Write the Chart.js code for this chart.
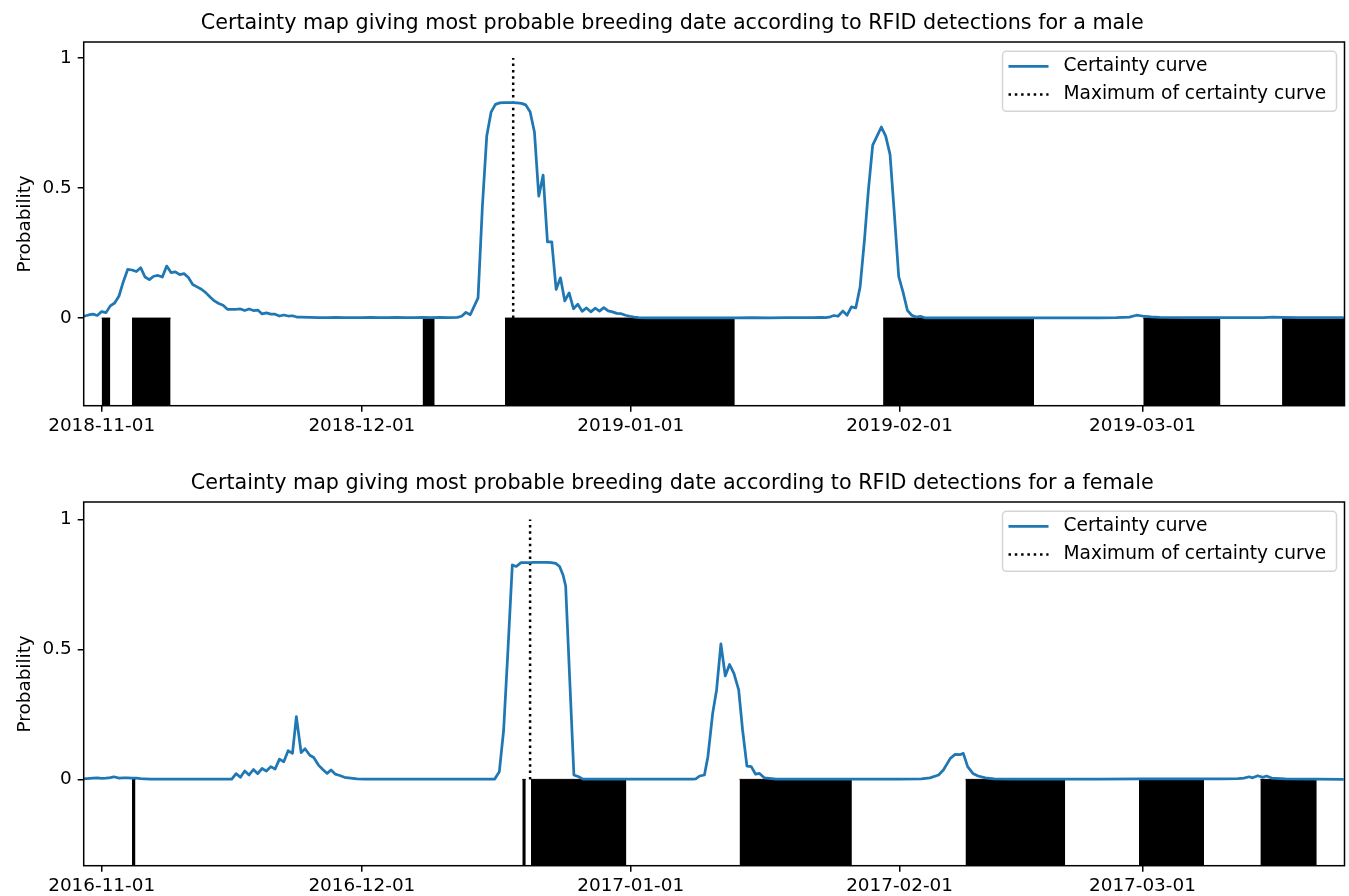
<!DOCTYPE html>
<html lang="en">
<head>
<meta charset="UTF-8">
<title>Certainty maps of breeding date</title>
<script src="https://cdn.jsdelivr.net/npm/chart.js"></script>
<style>
  body { margin: 0; background: #fff; }
  canvas { display: block; }
</style>
</head>
<body>
<canvas id="maleChart" width="1349" height="448"></canvas>
<canvas id="femaleChart" width="1349" height="448"></canvas>

<script>
// x values are days counted from the 1st of November of each season
var tickDays = [0, 30, 61, 92, 120];
var maleTickLabels = ['2018-11-01', '2018-12-01', '2019-01-01', '2019-02-01', '2019-03-01'];
var femaleTickLabels = ['2016-11-01', '2016-12-01', '2017-01-01', '2017-02-01', '2017-03-01'];
var probTicks = [0, 0.5, 1];
var probTickLabels = ['0', '0.5', '1'];
var legendLabels = ['Certainty curve', 'Maximum of certainty curve'];

// male, 2018-2019
var maleDays = [
  -2.05, -1.5, -1, -0.5, 0, 0.5, 1, 1.5, 2, 2.5,
  3, 3.5, 4, 4.5, 5, 5.5, 6, 6.5, 7, 7.5,
  8, 8.5, 9, 9.5, 10, 10.5, 11, 11.5, 12, 12.5,
  13, 13.5, 14, 14.5, 15, 15.5, 16, 16.5, 17, 17.5,
  18, 18.5, 19, 19.5, 20, 20.5, 21, 21.5, 22, 22.5,
  23, 24, 25, 26, 27, 28, 29, 30, 31, 32,
  33, 34, 35, 36, 37, 38, 39, 40, 41, 41.5,
  42, 42.5, 43.4, 43.9, 44.4, 44.9, 45.4, 45.9, 46.4, 46.9,
  47.4, 47.9, 48.4, 48.9, 49.4, 49.9, 50.4, 50.9, 51.4, 51.9,
  52.4, 52.9, 53.4, 53.9, 54.4, 54.9, 55.4, 55.9, 56.4, 56.9,
  57.4, 57.9, 58.4, 58.9, 59.4, 59.9, 60.4, 60.9, 61.4, 61.9,
  63, 65, 67, 69, 71, 73, 75, 77, 79, 81,
  82, 83, 83.5, 84, 84.45, 84.9, 85.45, 85.95, 86.45, 86.95,
  87.45, 87.95, 88.4, 88.9, 89.4, 89.9, 90.4, 90.9, 91.4, 91.9,
  92.4, 92.9, 93.4, 93.9, 94.4, 94.9, 96, 98, 100, 103,
  106, 109, 112, 115, 117, 118.5, 119.3, 120, 121, 122,
  125, 128, 131, 134, 135, 136, 138, 141, 143.2
];
var maleProb = [
  0.007, 0.012, 0.015, 0.010, 0.025, 0.021, 0.047, 0.058, 0.085, 0.140,
  0.187, 0.185, 0.179, 0.194, 0.158, 0.148, 0.161, 0.164, 0.158, 0.200,
  0.175, 0.178, 0.167, 0.171, 0.156, 0.129, 0.120, 0.111, 0.098, 0.081,
  0.066, 0.056, 0.049, 0.034, 0.034, 0.034, 0.035, 0.029, 0.035, 0.029,
  0.031, 0.016, 0.020, 0.015, 0.015, 0.008, 0.012, 0.008, 0.009, 0.004,
  0.004, 0.003, 0.002, 0.002, 0.003, 0.002, 0.002, 0.002, 0.003, 0.002,
  0.002, 0.003, 0.002, 0.002, 0.003, 0.002, 0.003, 0.002, 0.003, 0.007,
  0.022, 0.013, 0.078, 0.430, 0.700, 0.792, 0.822, 0.828, 0.829, 0.829,
  0.829, 0.828, 0.826, 0.820, 0.794, 0.716, 0.469, 0.550, 0.293, 0.293,
  0.110, 0.155, 0.066, 0.097, 0.036, 0.053, 0.026, 0.039, 0.024, 0.038,
  0.027, 0.040, 0.028, 0.024, 0.018, 0.017, 0.011, 0.007, 0.004, 0.002,
  0.001, 0.001, 0.001, 0.001, 0.001, 0.001, 0.002, 0.001, 0.002, 0.002,
  0.002, 0.003, 0.002, 0.005, 0.010, 0.007, 0.027, 0.011, 0.043, 0.039,
  0.120, 0.300, 0.490, 0.665, 0.700, 0.735, 0.700, 0.630, 0.400, 0.160,
  0.100, 0.030, 0.011, 0.004, 0.007, 0.001, 0.001, 0.001, 0.001, 0.001,
  0.001, 0.001, 0.001, 0.001, 0.002, 0.004, 0.011, 0.008, 0.005, 0.003,
  0.002, 0.002, 0.002, 0.002, 0.004, 0.003, 0.002, 0.002, 0.002
];
var maleMaxDay = 47.45;
// RFID detection periods [from, to]
var maleDetections = [[0, 1], [3.5, 7.95], [37, 38.4], [46.5, 73], [90.1, 107.5], [120.1, 129], [136.1, 143.3]];

// female, 2016-2017
var femaleDays = [
  -2.05, -1, -0.5, 0, 0.5, 1, 1.4, 2, 2.5, 3,
  3.5, 4, 4.5, 5, 5.6, 7, 9, 11, 13, 15,
  15.5, 16, 16.5, 17, 17.5, 18, 18.5, 19, 19.5, 20,
  20.5, 21, 21.5, 22, 22.45, 23, 23.45, 24, 24.45, 25,
  25.5, 26, 26.45, 26.95, 27.45, 28, 28.7, 29.45, 30.4, 33,
  36, 39, 42, 45.3, 45.85, 46.35, 46.85, 47.35, 47.8, 48.35,
  48.85, 49.35, 49.85, 50.35, 50.85, 51.35, 51.85, 52.35, 52.8, 53.2,
  53.5, 54.45, 55, 55.5, 58, 61, 64, 66, 68.2, 68.5,
  68.95, 69.5, 69.9, 70.45, 70.9, 71.4, 71.9, 72.4, 72.9, 73.45,
  73.9, 74.4, 74.9, 75.4, 75.85, 76.4, 77, 77.75, 81, 85,
  89, 92, 94.5, 95.5, 96.5, 97.05, 97.85, 98.4, 98.95, 99.35,
  99.85, 100.45, 101.05, 101.9, 102.9, 105, 110, 115, 120, 125,
  129, 131, 131.7, 132.3, 132.7, 133.3, 133.9, 134.3, 134.9, 136.5,
  140, 143.2
];
var femaleProb = [
  0.002, 0.005, 0.006, 0.004, 0.005, 0.007, 0.010, 0.005, 0.006, 0.006,
  0.005, 0.005, 0.003, 0.002, 0.001, 0.001, 0.001, 0.001, 0.001, 0.001,
  0.022, 0.008, 0.032, 0.017, 0.038, 0.022, 0.042, 0.032, 0.049, 0.040,
  0.078, 0.068, 0.110, 0.100, 0.241, 0.103, 0.118, 0.093, 0.084, 0.055,
  0.038, 0.023, 0.036, 0.020, 0.015, 0.008, 0.005, 0.002, 0.001, 0.001,
  0.001, 0.001, 0.001, 0.001, 0.029, 0.190, 0.500, 0.825, 0.819, 0.834,
  0.834, 0.834, 0.835, 0.835, 0.835, 0.835, 0.834, 0.831, 0.819, 0.786,
  0.744, 0.017, 0.010, 0.001, 0.001, 0.001, 0.001, 0.001, 0.001, 0.002,
  0.013, 0.017, 0.087, 0.254, 0.344, 0.521, 0.398, 0.442, 0.408, 0.344,
  0.190, 0.051, 0.049, 0.020, 0.023, 0.006, 0.004, 0.001, 0.001, 0.001,
  0.001, 0.001, 0.002, 0.006, 0.017, 0.036, 0.081, 0.096, 0.095, 0.100,
  0.049, 0.023, 0.013, 0.006, 0.002, 0.001, 0.001, 0.001, 0.002, 0.002,
  0.002, 0.003, 0.005, 0.010, 0.006, 0.014, 0.008, 0.013, 0.005, 0.002,
  0.001, 0.000
];
var femaleMaxDay = 49.4;
var femaleDetections = [[3.5, 3.9], [48.5, 48.9], [49.5, 60.5], [73.55, 86.5], [99.6, 111.1], [119.6, 127.1], [133.6, 140.1]];

var curveColor = '#1f77b4';

Chart.defaults.font.family = "'DejaVu Sans', sans-serif";
Chart.defaults.color = '#000';

// black frame around the axes, like matplotlib spines
var framePlugin = {
  id: 'frame',
  afterDatasetsDraw: function(chart) {
    var a = chart.chartArea, ctx = chart.ctx;
    ctx.save();
    ctx.strokeStyle = '#000';
    ctx.lineWidth = 1.5;
    ctx.strokeRect(a.left, a.top, a.right - a.left, a.bottom - a.top);
    ctx.restore();
  }
};

// legend drawn in a box inside the upper right corner of the axes
var boxLegend = {
  id: 'boxLegend',
  afterDraw: function(chart) {
    var ctx = chart.ctx, a = chart.chartArea;
    var w = 334, h = 60;
    var left = a.right - 342, top = a.top + 9.3;
    ctx.save();
    ctx.beginPath();
    if (ctx.roundRect) ctx.roundRect(left, top, w, h, 4); else ctx.rect(left, top, w, h);
    ctx.fillStyle = 'rgba(255,255,255,0.8)';
    ctx.fill();
    ctx.strokeStyle = '#d5d5d5';
    ctx.lineWidth = 1.5;
    ctx.stroke();
    ctx.font = '18.6px "DejaVu Sans"';
    ctx.textBaseline = 'middle';
    ctx.fillStyle = '#000';
    for (var i = 0; i < legendLabels.length; i++) {
      var ds = chart.data.datasets[i];
      var y = top + 15 + i * 28.3;
      ctx.beginPath();
      ctx.strokeStyle = ds.borderColor;
      ctx.lineWidth = ds.borderWidth;
      ctx.setLineDash(ds.borderDash || []);
      ctx.moveTo(left + 6, y);
      ctx.lineTo(left + 46, y);
      ctx.stroke();
      ctx.setLineDash([]);
      ctx.fillText(legendLabels[i], left + 61, y);
    }
    ctx.restore();
  }
};

function makeChart(id, opt) {
  var datasets = [{
    label: legendLabels[0],
    data: opt.days.map(function(d, i) { return { x: d, y: opt.prob[i] }; }),
    borderColor: curveColor,
    borderWidth: 2.75,
    borderJoinStyle: 'round',
    pointRadius: 0,
    tension: 0,
    fill: false
  }, {
    label: legendLabels[1],
    data: [{ x: opt.maxDay, y: 0 }, { x: opt.maxDay, y: 1 }],
    borderColor: '#000',
    borderWidth: 2.5,
    borderDash: [2.5, 3.8],
    pointRadius: 0,
    fill: false
  }];
  opt.detections.forEach(function(s) {
    datasets.push({
      data: [{ x: s[0], y: 0 }, { x: s[1], y: 0 }],
      borderColor: '#000',
      borderWidth: 1,
      backgroundColor: '#000',
      pointRadius: 0,
      fill: 'start'
    });
  });

  return new Chart(document.getElementById(id), {
    type: 'line',
    data: { datasets: datasets },
    options: {
      responsive: false,
      animation: false,
      events: [],
      layout: { padding: { left: 0, right: 4.5, top: 0, bottom: 0 } },
      plugins: {
        legend: { display: false },
        tooltip: { enabled: false },
        title: {
          display: true,
          text: opt.title,
          color: '#000',
          font: { size: 20.7, weight: 'normal' },
          padding: opt.titlePadding
        }
      },
      scales: {
        x: {
          type: 'linear',
          min: -2.07,
          max: 143.3,
          border: { display: false },
          grid: { display: true, drawOnChartArea: false, drawTicks: true, tickLength: 6, color: '#000', lineWidth: 1.5 },
          ticks: {
            autoSkip: false,
            maxRotation: 0,
            padding: 3,
            font: { size: 18.4 },
            callback: function(value, index) { return opt.tickLabels[index]; }
          },
          afterBuildTicks: function(scale) {
            scale.ticks = tickDays.map(function(v) { return { value: v }; });
          },
          afterFit: function(scale) { scale.height = opt.xAxisHeight; }
        },
        y: {
          type: 'linear',
          min: opt.yMin,
          max: opt.yMax,
          border: { display: false },
          grid: { display: true, drawOnChartArea: false, drawTicks: true, tickLength: 6, color: '#000', lineWidth: 1.5 },
          ticks: {
            padding: 6,
            font: { size: 18.4 },
            callback: function(value, index) { return probTickLabels[index]; }
          },
          afterBuildTicks: function(scale) {
            scale.ticks = probTicks.map(function(v) { return { value: v }; });
          },
          title: {
            display: true,
            text: 'Probability',
            font: { size: 18.4 },
            padding: { top: 13.7, bottom: 0 }
          },
          afterFit: function(scale) { scale.width = 83.7; }
        }
      }
    },
    plugins: [framePlugin, boxLegend]
  });
}

makeChart('maleChart', {
  title: 'Certainty map giving most probable breeding date according to RFID detections for a male',
  titlePadding: { top: 11, bottom: 6.16 },
  days: maleDays,
  prob: maleProb,
  maxDay: maleMaxDay,
  detections: maleDetections,
  tickLabels: maleTickLabels,
  xAxisHeight: 42.3,
  yMin: -0.337,
  yMax: 1.062
});

makeChart('femaleChart', {
  title: 'Certainty map giving most probable breeding date according to RFID detections for a female',
  titlePadding: { top: 23.5, bottom: 5.66 },
  days: femaleDays,
  prob: femaleProb,
  maxDay: femaleMaxDay,
  detections: femaleDetections,
  tickLabels: femaleTickLabels,
  xAxisHeight: 30.3,
  yMin: -0.332,
  yMax: 1.067
});
</script>
</body>
</html>
